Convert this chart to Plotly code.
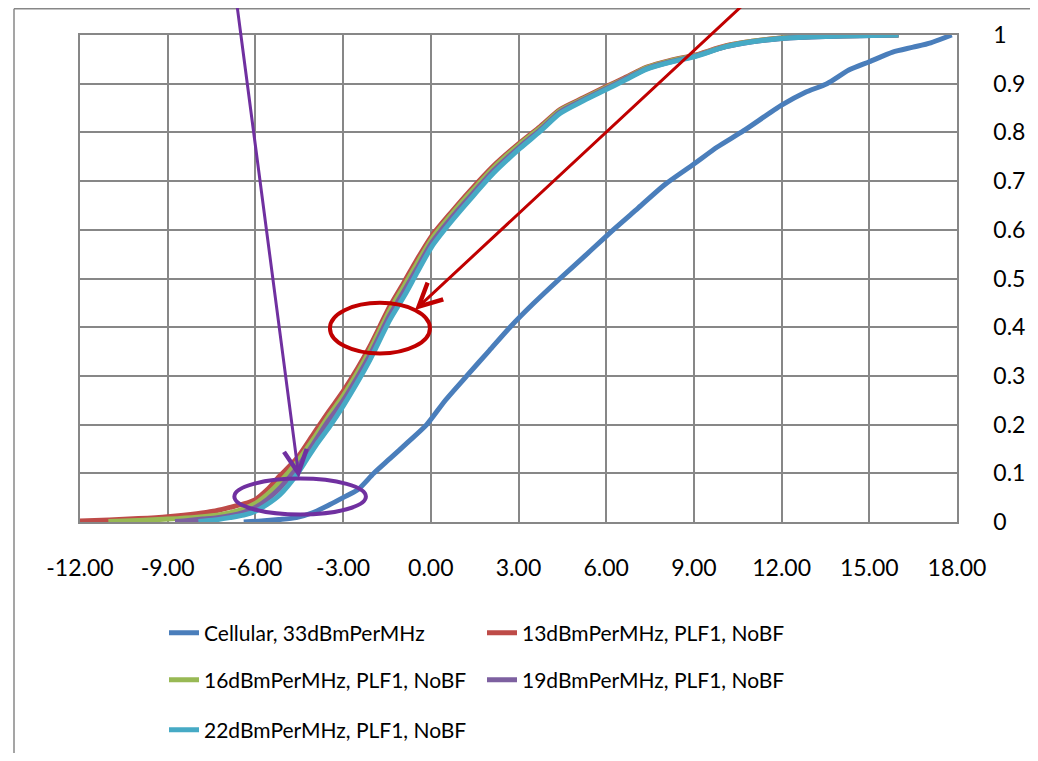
import plotly.graph_objects as go

# ---------------- data ----------------
x_tick_vals = [-12, -9, -6, -3, 0, 3, 6, 9, 12, 15, 18]
x_tick_text = [f"{v:.2f}" for v in x_tick_vals]
y_tick_vals = [0, 0.1, 0.2, 0.3, 0.4, 0.5, 0.6, 0.7, 0.8, 0.9, 1.0]

names = [
    "Cellular, 33dBmPerMHz",
    "13dBmPerMHz, PLF1, NoBF",
    "16dBmPerMHz, PLF1, NoBF",
    "19dBmPerMHz, PLF1, NoBF",
    "22dBmPerMHz, PLF1, NoBF",
]

cell_x = [-6.4, -5.8, -5.2, -4.6, -4.0, -3.45, -3.0, -2.5, -1.95, -1.4, -0.8, -0.14, 0.5, 1.23,
          2.0, 2.71, 3.5, 4.42, 5.3, 6.24, 7.1, 8.01, 9.0, 9.8, 10.69, 12.0, 12.8, 13.55, 14.3,
          15.0, 15.8, 16.5, 17.1, 17.82]
cell_y = [0.0, 0.002, 0.005, 0.009, 0.02, 0.036, 0.05, 0.066, 0.1, 0.13, 0.163, 0.2, 0.25, 0.3,
          0.352, 0.4, 0.448, 0.5, 0.548, 0.6, 0.645, 0.693, 0.735, 0.77, 0.803, 0.856, 0.882, 0.9, 0.928,
          0.945, 0.965, 0.975, 0.984, 1.0]

p13_x = [-12.0, -11.0, -10.0, -9.0, -8.0, -7.44, -6.87, -6.4, -6.0, -5.6, -5.16, -4.59, -4.02, -3.5,
         -3.0, -2.5, -2.08, -1.4, -0.9, -0.48, 0.04, 0.7, 1.34, 2.14, 3.05, 3.74, 4.42, 5.22, 6.0,
         6.6, 7.39, 8.2, 9.0, 10.1, 11.0, 12.0, 13.5, 16.0]
p13_y = [0.002, 0.004, 0.007, 0.011, 0.017, 0.022, 0.03, 0.037, 0.046, 0.066, 0.095, 0.13, 0.18, 0.226,
         0.268, 0.316, 0.361, 0.443, 0.494, 0.538, 0.588, 0.636, 0.68, 0.731, 0.779, 0.812, 0.847, 0.871, 0.894,
         0.911, 0.934, 0.948, 0.958, 0.978, 0.987, 0.994, 0.998, 1.0]

p16_x = [-11.03, -10.0, -9.0, -8.0, -7.2, -6.5, -6.0, -5.6, -5.16, -4.59, -4.02, -3.5,
         -3.0, -2.5, -2.08, -1.4, -0.9, -0.48, 0.04, 0.7, 1.34, 2.14, 3.05, 3.74, 4.42, 5.22, 6.0,
         6.6, 7.39, 8.2, 9.0, 10.1, 11.0, 12.0, 13.5, 16.0]
p16_y = [0.001, 0.003, 0.006, 0.01, 0.015, 0.025, 0.038, 0.056, 0.082, 0.122, 0.17, 0.217,
         0.259, 0.308, 0.353, 0.435, 0.486, 0.53, 0.582, 0.631, 0.675, 0.727, 0.776, 0.809, 0.845, 0.869, 0.892,
         0.909, 0.933, 0.947, 0.957, 0.977, 0.987, 0.994, 0.998, 1.0]

p19_x = [-8.75, -8.3, -7.8, -7.3, -6.87, -6.4, -6.0, -5.6, -5.16, -4.59, -4.02, -3.5,
         -3.0, -2.5, -2.08, -1.4, -0.9, -0.48, 0.04, 0.7, 1.34, 2.14, 3.05, 3.74, 4.42, 5.22, 6.0,
         6.6, 7.39, 8.2, 9.0, 10.1, 11.0, 12.0, 13.5, 16.0]
p19_y = [0.001, 0.003, 0.006, 0.009, 0.013, 0.02, 0.03, 0.046, 0.07, 0.11, 0.16, 0.208,
         0.249, 0.298, 0.343, 0.425, 0.476, 0.52, 0.574, 0.624, 0.668, 0.721, 0.771, 0.805, 0.842, 0.867, 0.89,
         0.908, 0.931, 0.945, 0.956, 0.976, 0.986, 0.993, 0.997, 1.0]

p22_x = [-7.95, -7.4, -6.87, -6.4, -6.0, -5.6, -5.16, -4.59, -4.25, -3.9, -3.45, -3.0, -2.5, -2.08,
         -1.4, -0.9, -0.48, 0.04, 0.7, 1.34, 2.14, 3.05, 3.74, 4.42, 5.22, 6.0, 6.6, 7.39, 8.2, 9.0,
         10.1, 11.0, 12.0, 13.5, 16.0]
p22_y = [0.001, 0.004, 0.009, 0.014, 0.022, 0.036, 0.056, 0.097, 0.128, 0.16, 0.197, 0.238, 0.288, 0.333,
         0.415, 0.465, 0.511, 0.566, 0.617, 0.662, 0.716, 0.767, 0.802, 0.839, 0.865, 0.888, 0.906, 0.93, 0.944, 0.955,
         0.976, 0.986, 0.993, 0.997, 1.0]

series_x = [cell_x, p13_x, p16_x, p19_x, p22_x]
series_y = [cell_y, p13_y, p16_y, p19_y, p22_y]
colors = ["#4A7EBB", "#BE4B48", "#98B954", "#7D60A0", "#46AAC5"]

# ---------------- layout geometry ----------------
# the page body has an 8px margin, so the figure starts at page (8, 8);
# keep the figure small enough that the page does not overflow the window
OFF = 8
W, H = 1038 - 2 * OFF, 761 - 2 * OFF
PLOT_L, PLOT_R, PLOT_T, PLOT_B = 80, 957, 35, 522   # page pixels of the plot area
ML = PLOT_L - OFF
MT = PLOT_T - OFF
MR = (W + OFF) - PLOT_R
MB = (H + OFF) - PLOT_B
PW = PLOT_R - PLOT_L
PH = PLOT_B - PLOT_T
GRID = "#878787"
FONT = "Lato"


def px_x(p):
    """page x pixel -> paper x"""
    return (p - PLOT_L) / PW


def px_y(p):
    """page y pixel -> paper y"""
    return (PLOT_B - p) / PH


def dx(p):
    """page x pixel -> data x"""
    return -12 + 30 * (p - PLOT_L) / PW


def dy(p):
    """page y pixel -> data y"""
    return (PLOT_B - p) / PH


fig = go.Figure()
legend_ids = ["legend", "legend2", "legend3", "legend4", "legend5"]
for name, xs, ys, col, lg in zip(names, series_x, series_y, colors, legend_ids):
    fig.add_trace(go.Scatter(x=xs, y=ys, mode="lines", name=name,
                             line=dict(color=col, width=5, shape="spline", smoothing=0.7),
                             legend=lg))

# legend placement (two columns, three rows like the original)
leg_pos = [(164, 633), (482, 633), (164, 680), (482, 680), (164, 730)]
legend_layouts = {}
for lg, (lx, ly) in zip(legend_ids, leg_pos):
    legend_layouts[lg] = dict(x=px_x(lx), y=px_y(ly), xanchor="left", yanchor="middle",
                              bgcolor="rgba(0,0,0,0)", borderwidth=0,
                              font=dict(family=FONT, size=21, color="black"))

fig.update_layout(
    width=W, height=H,
    margin=dict(l=ML, r=MR, t=MT, b=MB, pad=0, autoexpand=False),
    paper_bgcolor="white", plot_bgcolor="white",
    showlegend=True,
    **legend_layouts,
)

fig.update_xaxes(range=[-12, 18], tickvals=x_tick_vals, ticktext=x_tick_text,
                 showgrid=True, gridcolor=GRID, gridwidth=1.5, zeroline=False,
                 showline=True, mirror=True, linecolor=GRID, linewidth=1.5,
                 ticks="", ticklabelstandoff=25,
                 tickfont=dict(family=FONT, size=23, color="black"))
fig.update_yaxes(range=[0, 1], tickvals=y_tick_vals, side="right",
                 showgrid=True, gridcolor=GRID, gridwidth=1.5, zeroline=False,
                 showline=True, mirror=True, linecolor=GRID, linewidth=1.5,
                 ticks="", ticklabelstandoff=30,
                 tickfont=dict(family=FONT, size=23, color="black"))

# outer chart-area frame: top and left edges (the others run off the picture)
fig.add_shape(type="line", xref="paper", yref="paper",
              x0=px_x(14), x1=px_x(1200), y0=px_y(OFF + 0.75), y1=px_y(OFF + 0.75),
              line=dict(color=GRID, width=1.5), layer="below")
fig.add_shape(type="line", xref="paper", yref="paper",
              x0=px_x(14), x1=px_x(14), y0=px_y(OFF + 0.75), y1=px_y(900),
              line=dict(color=GRID, width=1.5), layer="below")

# highlight ellipses
fig.add_shape(type="circle", xref="x", yref="y", x0=-3.45, x1=-0.03, y0=0.346, y1=0.45,
              line=dict(color="#C00000", width=4))
fig.add_shape(type="circle", xref="x", yref="y", x0=-6.72, x1=-2.22, y0=0.0154, y1=0.0892,
              line=dict(color="#7030A0", width=4))

# arrows (tails run off the top of the picture)
fig.add_annotation(x=dx(415), y=dy(310), ax=dx(759), ay=dy(-10), axref="x", ayref="y",
                   text="", showarrow=True, arrowhead=5, arrowsize=1.5,
                   arrowwidth=3, arrowcolor="#C00000", standoff=0)
fig.add_annotation(x=dx(299), y=dy(478), ax=dx(235), ay=dy(-10), axref="x", ayref="y",
                   text="", showarrow=True, arrowhead=5, arrowsize=1.5,
                   arrowwidth=3, arrowcolor="#7030A0", standoff=0)

fig.write_html("out.html", config={"displayModeBar": False})
